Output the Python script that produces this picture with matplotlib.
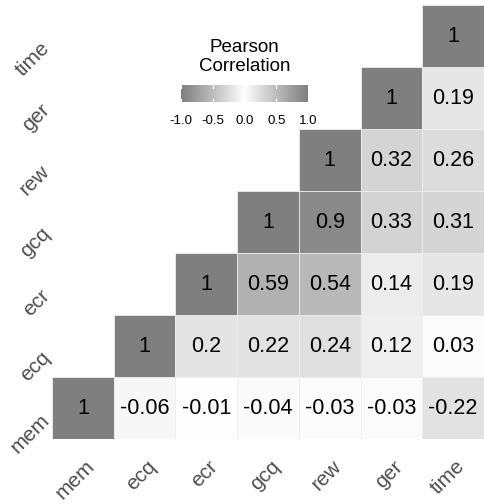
import numpy as np
import matplotlib
matplotlib.use("Agg")
import matplotlib.pyplot as plt
import matplotlib.transforms as mtransforms
from matplotlib.colors import ListedColormap, Normalize
from matplotlib.patches import Rectangle

plt.rcParams['font.family'] = ['Liberation Sans', 'DejaVu Sans']

# variables, bottom row first
labels = ["mem", "ecq", "ecr", "gcq", "rew", "ger", "time"]

# upper triangle of the correlation matrix, row by row (None = not shown)
r_mem = [1, -0.06, -0.01, -0.04, -0.03, -0.03, -0.22]
r_ecq = [None, 1, 0.2, 0.22, 0.24, 0.12, 0.03]
r_ecr = [None, None, 1, 0.59, 0.54, 0.14, 0.19]
r_gcq = [None, None, None, 1, 0.9, 0.33, 0.31]
r_rew = [None, None, None, None, 1, 0.32, 0.26]
r_ger = [None, None, None, None, None, 1, 0.19]
r_time = [None, None, None, None, None, None, 1]
rows = [r_mem, r_ecq, r_ecr, r_gcq, r_rew, r_ger, r_time]


# gray50 -> white -> gray50, interpolated in L* like ggplot does
def lab_gray(t):
    v0 = 127 / 255
    y0 = ((v0 + 0.055) / 1.055) ** 2.4
    l0 = 116 * y0 ** (1 / 3) - 16
    L = 100 - abs(t) * (100 - l0)
    Y = ((L + 16) / 116) ** 3
    v = 1.055 * Y ** (1 / 2.4) - 0.055
    return (v, v, v)


grid = np.linspace(-1, 1, 257)
cmap = ListedColormap([lab_gray(t) for t in grid])
norm = Normalize(-1, 1)

n = len(labels)

fig = plt.figure(figsize=(4.84, 5.04), dpi=100)
ax = fig.add_axes([52 / 484, 65 / 504, 432 / 484, 434 / 504])
for i, row in enumerate(rows):
    for j, v in enumerate(row):
        if v is None:
            continue
        ax.add_patch(Rectangle((j - 0.5, i - 0.5), 1, 1, facecolor=cmap(norm(v)),
                               edgecolor="#eeeeee", linewidth=0.6))
        ax.text(j, i, f"{v:g}", ha="center", va="center", fontsize=15.5, color="black")

ax.set_xlim(-0.5, n - 0.5)
ax.set_ylim(-0.5, n - 0.5)
for s in ax.spines.values():
    s.set_visible(False)
ax.tick_params(length=0, pad=2)
ax.set_xticks(range(n))
ax.set_yticks(range(n))
ax.set_xticklabels(labels, rotation=45, ha="right", va="top", rotation_mode="anchor",
                   fontsize=15, color="#4d4d4d")
ax.set_yticklabels(labels, rotation=45, ha="right", va="top", rotation_mode="anchor",
                   fontsize=15, color="#4d4d4d")
offx = mtransforms.ScaledTranslation(2 / 100, -15 / 100, fig.dpi_scale_trans)
for lab in ax.get_xticklabels():
    lab.set_transform(lab.get_transform() + offx)
offy = mtransforms.ScaledTranslation(-9 / 100, -2 / 100, fig.dpi_scale_trans)
for lab in ax.get_yticklabels():
    lab.set_transform(lab.get_transform() + offy)

# legend colour bar
cax = fig.add_axes([181 / 484, (504 - 102) / 504, 127 / 484, 17 / 504])
cax.imshow(grid[np.newaxis, :], cmap=cmap, aspect="auto", extent=(-1, 1, 0, 1), vmin=-1, vmax=1)
cax.set_xlim(-1, 1)
cax.set_ylim(0, 1)
for s in cax.spines.values():
    s.set_visible(False)
cax.set_yticks([])
cbar_ticks = [-1.0, -0.5, 0.0, 0.5, 1.0]
cax.set_xticks(cbar_ticks)
cax.set_xticklabels([f"{t:.1f}" for t in cbar_ticks], fontsize=9.5, color="black")
cax.tick_params(axis="x", length=0, pad=9)
for t in cbar_ticks:
    cax.plot([t, t], [0, 0.2], color="white", lw=0.8)
    cax.plot([t, t], [0.8, 1], color="white", lw=0.8)
fig.text(244.5 / 484, 1 - 57 / 504, "Pearson\nCorrelation", ha="center", va="center",
         fontsize=13.5, linespacing=1.1)

fig.savefig("out.png", dpi=100)
